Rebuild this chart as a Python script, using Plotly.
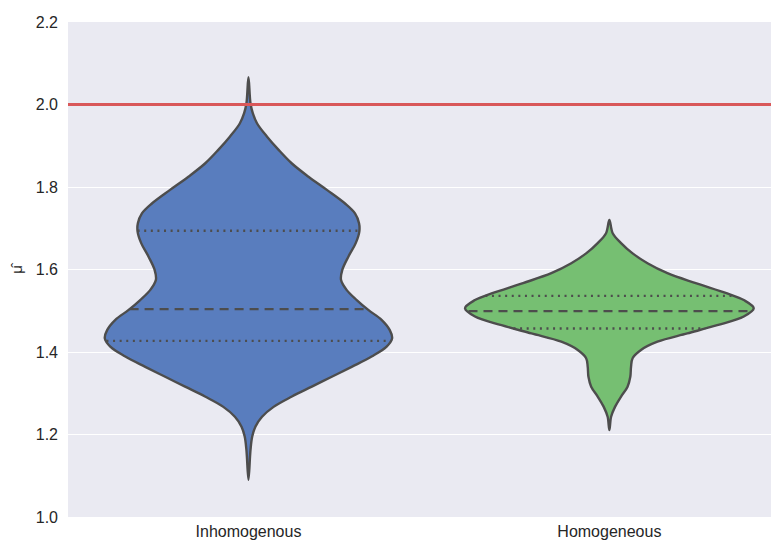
import numpy as np
import plotly.graph_objects as go

categories = ["Inhomogenous", "Homogeneous"]

# Violin density profiles (value, relative density)
inhom_values = [2.066, 2.003, 1.979, 1.954, 1.922, 1.890, 1.857, 1.825, 1.793, 1.760,
                1.736, 1.712, 1.692, 1.664, 1.631, 1.599, 1.575, 1.550, 1.526, 1.502,
                1.478, 1.453, 1.433, 1.413, 1.389, 1.364, 1.340, 1.316, 1.292, 1.267,
                1.243, 1.219, 1.195, 1.162, 1.090]
inhom_density = [0.0, 0.014, 0.030, 0.060, 0.129, 0.209, 0.301, 0.416, 0.543, 0.669,
                 0.738, 0.766, 0.768, 0.743, 0.692, 0.650, 0.641, 0.681, 0.750, 0.830,
                 0.922, 0.979, 0.995, 0.957, 0.853, 0.715, 0.577, 0.439, 0.301, 0.174,
                 0.094, 0.048, 0.026, 0.014, 0.0]

hom_values = [1.720, 1.688, 1.664, 1.639, 1.615, 1.591, 1.567, 1.542, 1.526, 1.506,
              1.486, 1.465, 1.445, 1.425, 1.405, 1.385, 1.364, 1.340, 1.316, 1.292,
              1.267, 1.243, 1.211]
hom_density = [0.0, 0.023, 0.081, 0.161, 0.264, 0.402, 0.598, 0.816, 0.931, 1.0,
               0.931, 0.747, 0.540, 0.333, 0.219, 0.161, 0.150, 0.145, 0.126, 0.081,
               0.039, 0.012, 0.0]

# Quartiles (q1, median, q3)
inhom_quartiles = [1.427, 1.504, 1.694]
hom_quartiles = [1.457, 1.499, 1.536]

reference_value = 2.0

fill_colors = ["#597DBE", "#76BF72"]
edge_color = "#4D4D4D"
half_width = 0.4

fig = go.Figure()

profiles = [(inhom_values, inhom_density, inhom_quartiles),
            (hom_values, hom_density, hom_quartiles)]

for i, (vals, dens, quarts) in enumerate(profiles):
    v = np.array(vals)
    d = np.array(dens) * half_width
    xs = np.concatenate([i - d, (i + d)[::-1][1:]])
    ys = np.concatenate([v, v[::-1][1:]])
    fig.add_trace(go.Scatter(
        x=xs, y=ys, mode="lines", fill="toself",
        fillcolor=fill_colors[i],
        line=dict(color=edge_color, width=2.4, shape="spline", smoothing=1.0),
        hoverinfo="skip", showlegend=False))
    # quartile lines
    order = np.argsort(v)
    for k, q in enumerate(quarts):
        w = np.interp(q, v[order], d[order])
        fig.add_trace(go.Scatter(
            x=[i - w, i + w], y=[q, q], mode="lines",
            line=dict(color=edge_color, width=2.4,
                      dash="9px,6px" if k == 1 else "2px,4.6px"),
            hoverinfo="skip", showlegend=False))

fig.add_trace(go.Scatter(
    x=[-0.5, 1.47], y=[reference_value, reference_value], mode="lines",
    line=dict(color="#D9585A", width=3), hoverinfo="skip", showlegend=False))

fig.update_layout(
    width=771, height=534,
    margin=dict(l=60, r=0, t=14, b=25),
    paper_bgcolor="white",
    plot_bgcolor="#EAEAF2",
    font=dict(family="Liberation Sans, Arial, sans-serif", size=16, color="#262626"),
    xaxis=dict(range=[-0.5, 1.47], tickvals=[0, 1], ticktext=categories,
               showgrid=False, zeroline=False, showline=False, ticks="",
               automargin=False,
               ticklabelstandoff=3, tickfont=dict(size=16)),
    yaxis=dict(range=[1.0, 2.2], dtick=0.2, tickformat=".1f",
               showgrid=True, gridcolor="white", gridwidth=1.2,
               zeroline=False, showline=False, ticks="",
               automargin=False,
               ticklabelstandoff=9,
               title=dict(text="μ̂", font=dict(size=15), standoff=12),
               tickfont=dict(size=16)),
)

fig.write_html("out.html")
